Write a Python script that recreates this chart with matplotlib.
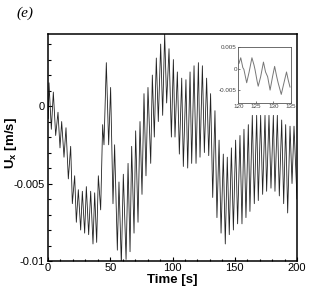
import matplotlib
matplotlib.use("Agg")
import matplotlib.pyplot as plt
from matplotlib.ticker import MultipleLocator, FixedLocator

plt.rcParams['font.family'] = ['Liberation Sans', 'DejaVu Sans']
plt.rcParams['mathtext.fontset'] = 'custom'
plt.rcParams['mathtext.rm'] = 'Liberation Sans'
plt.rcParams['mathtext.bf'] = 'Liberation Sans:bold'
plt.rcParams['mathtext.it'] = 'Liberation Sans:italic'

# main series: time [s] and Ux [m/s] at successive peaks / troughs
time_s = [0.2, 0.8, 2.68, 4.28, 6.16, 8.03, 9.64, 10.98, 12.85, 14.46, 16.33, 18.21,
          19.55, 21.42, 22.76, 24.36, 26.24, 27.58, 29.45, 30.79, 32.66, 34.27, 36.14,
          37.48, 39.09, 40.43, 42.30, 43.9, 44.97, 46.85, 48.72, 50.3, 52.2, 53.5, 55.7,
          57.0, 58.9, 60.5, 62.7, 64.3, 65.9, 67.2, 69.1, 70.4, 72.3, 73.9, 75.5, 77.1,
          78.7, 80.3, 82.5, 83.8, 85.4, 87.0, 88.6, 90.5, 92.1, 93.7, 95.3, 97.2, 99.1,
          100.7, 102.0, 103.9, 105.5, 107.4, 108.7, 110.8, 112.2, 114.1, 115.4, 117.3,
          118.9, 120.8, 122.1, 124.0, 125.6, 127.4, 129.1, 130.6, 132.3, 134.1, 135.7,
          137.4, 139.0, 140.8, 142.4, 144.0, 145.6, 147.3, 148.9, 150.7, 152.3, 154.2,
          155.8, 157.4, 159.0, 160.9, 162.2, 164.1, 165.7, 167.6, 168.9, 170.8, 172.4,
          174.3, 175.6, 177.5, 179.1, 181.0, 182.3, 184.2, 185.8, 187.7, 189.3, 190.9,
          192.5, 194.4, 196.0, 197.6, 200.0]
ux = [-0.0008, 0.0015, -0.0015, 0.0009, -0.0019, -0.0004, -0.0027, -0.0010, -0.0033,
      -0.0014, -0.0047, -0.0026, -0.0063, -0.0045, -0.0075, -0.0054, -0.0080, -0.0055,
      -0.0082, -0.0052, -0.0083, -0.0055, -0.0089, -0.0056, -0.0088, -0.0045, -0.0067,
      -0.0012, -0.0025, 0.0028, -0.0025, 0.0012, -0.0063, -0.0025, -0.0093, -0.0049,
      -0.0102, -0.0044, -0.0099, -0.0037, -0.0094, -0.0026, -0.0082, -0.0016, -0.0075,
      -0.0010, -0.0057, 0.0008, -0.0045, 0.0012, -0.0037, 0.0020, -0.0020, 0.0031,
      -0.0010, 0.0040, -0.0006, 0.0047, 0.0002, 0.0037, -0.0020, 0.0030, -0.0020,
      0.0022, -0.0031, 0.0018, -0.0039, 0.0017, -0.0040, 0.0022, -0.0037, 0.0026,
      -0.0037, 0.0028, -0.0033, 0.0026, -0.0030, 0.0018, -0.0032, 0.0008, -0.0059,
      -0.0003, -0.0072, -0.0022, -0.0082, -0.0031, -0.0089, -0.0033, -0.0083, -0.0027,
      -0.0080, -0.0022, -0.0076, -0.0019, -0.0076, -0.0015, -0.0072, -0.0012, -0.0068,
      -0.0006, -0.0063, -0.0006, -0.0061, -0.0006, -0.0057, -0.0006, -0.0055, -0.0006,
      -0.0053, -0.0006, -0.0055, -0.0006, -0.0058, -0.0009, -0.0063, -0.0012, -0.0069,
      -0.0013, -0.0050, -0.0013, -0.0060]

# inset series
inset_t = [120.2, 120.7, 121.3, 121.6, 122.4, 123.1, 123.9, 124.5, 124.8, 125.4, 125.7,
           126.4, 127.2, 127.8, 128.4, 129.1, 129.8, 130.4, 131.0, 131.4, 132.3, 132.9,
           133.8, 134.3, 134.8]
inset_ux = [0.0012, 0.0025, 0.0002, -0.0002, -0.0033, -0.0008, 0.0025, 0.0008, -0.0003,
            -0.0030, -0.0041, -0.0019, 0.0015, -0.0008, -0.0019, -0.0050, -0.0019, 0.0005,
            -0.0019, -0.0033, -0.0060, -0.0039, -0.0008, -0.0027, -0.0043]

x_ticks = [0, 50, 100, 150, 200]
y_ticks = [-0.01, -0.005, 0]
y_ticklabels = ['-0.01', '-0.005', '0']
inset_xticks = [120, 125, 130, 135]
inset_yticks = [-0.005, 0, 0.005]
inset_yticklabels = ['-0.005', '0', '0.005']

W, H = 332, 296
fig = plt.figure(figsize=(W / 100, H / 100), dpi=100)

def box(l, t, r, b):
    return [l / W, 1 - b / H, (r - l) / W, (b - t) / H]

ax = fig.add_axes(box(48, 34, 297, 261))
ax.plot(time_s, ux, color='#222222', lw=0.6)
ax.set_xlim(0, 200)
ax.set_ylim(-0.01, 0.00465)
ax.xaxis.set_major_locator(FixedLocator(x_ticks))
ax.xaxis.set_minor_locator(MultipleLocator(10))
ax.yaxis.set_major_locator(FixedLocator(y_ticks))
ax.set_yticklabels(y_ticklabels)
ax.yaxis.set_minor_locator(MultipleLocator(0.001))
ax.tick_params(which='both', direction='in', top=False, right=False, labelsize=8, width=0.8)
ax.tick_params(which='major', length=3)
ax.tick_params(which='minor', length=1.8)
ax.tick_params(axis='x', pad=1.5)
ax.tick_params(axis='y', pad=2.5)
for s in ax.spines.values():
    s.set_linewidth(1.1)
ax.set_xlabel('Time [s]', fontsize=9.5, fontweight='bold', labelpad=1)
ax.set_ylabel(r'U$_{\mathbf{x}}$ [m/s]', fontsize=9.5, fontweight='bold')
ax.yaxis.set_label_coords(-0.118, 0.52)

fig.text(25 / W, 1 - 13 / H, '(e)', fontsize=11, style='italic',
         family='Liberation Serif', ha='center', va='center')

ins = fig.add_axes(box(238.3, 47, 290.7, 103))
ins.plot(inset_t, inset_ux, color='#777777', lw=0.7)
ins.set_xlim(120, 135)
ins.set_ylim(-0.008, 0.005)
ins.xaxis.set_major_locator(FixedLocator(inset_xticks))
ins.yaxis.set_major_locator(FixedLocator(inset_yticks))
ins.set_yticklabels(inset_yticklabels)
ins.tick_params(direction='in', length=1.5, width=0.5, labelsize=4.5, pad=1,
                colors='#444444', top=False, right=False)
for s in ins.spines.values():
    s.set_linewidth(0.6)
    s.set_color('#555555')

fig.savefig('out.png', dpi=100)
